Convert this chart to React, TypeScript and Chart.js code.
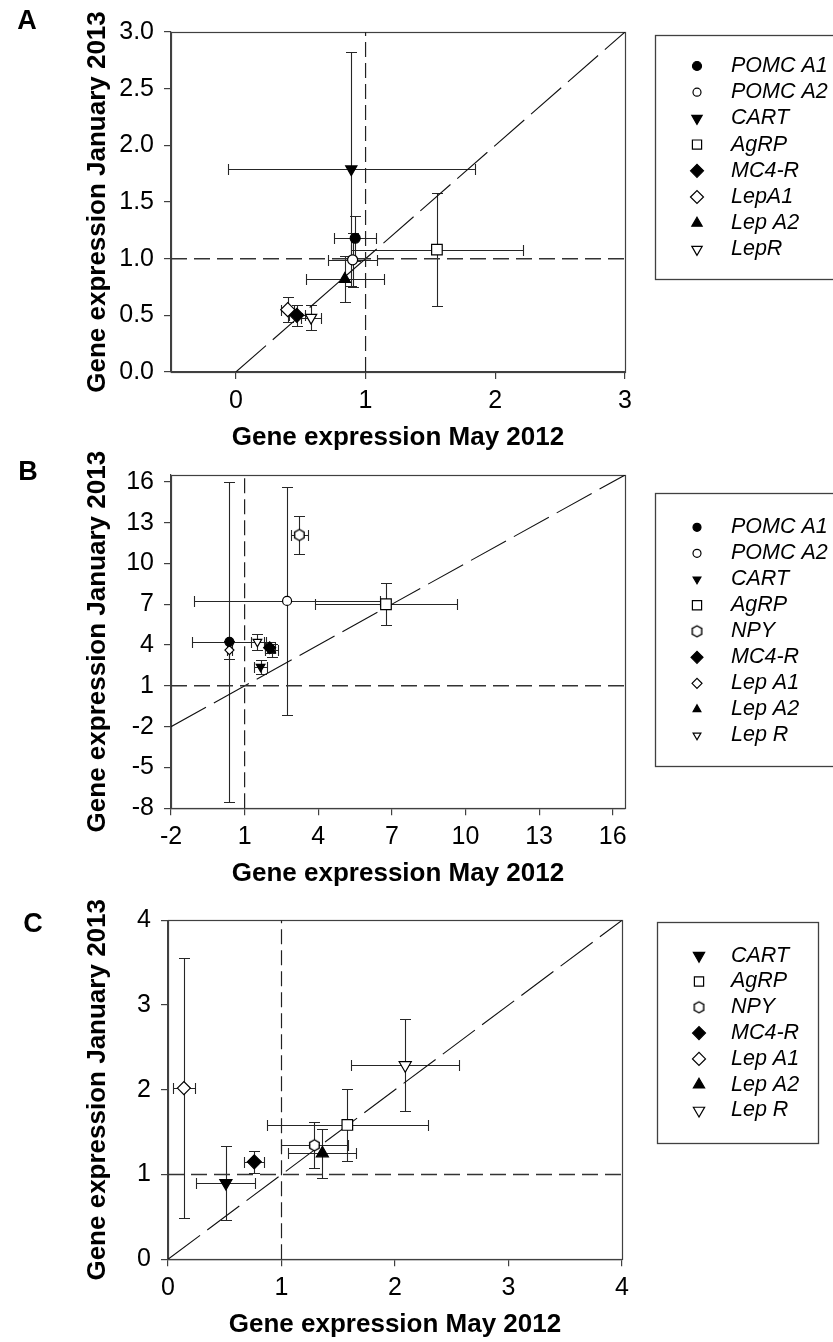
import React, { useEffect, useRef } from 'react';
import { Chart, registerables } from 'chart.js';
import { drawPoint } from 'chart.js/helpers';

Chart.register(...registerables);

const FONT = "'Liberation Sans', Arial, Helvetica, sans-serif";
Chart.defaults.font.family = FONT;
Chart.defaults.color = '#000';

// ---------------- shared text ----------------
const xTitle = 'Gene expression May 2012';
const yTitle = 'Gene expression January 2013';
const referenceLevel = 1;

// ---------------- Panel A ----------------
const genesA = ['POMC A1', 'POMC A2', 'CART', 'AgRP', 'MC4-R', 'LepA1', 'Lep A2', 'LepR'];
const mayA = [0.92, 0.9, 0.89, 1.55, 0.47, 0.4, 0.84, 0.58];
const mayErrA = [0.16, 0.19, 0.95, 0.66, 0.06, 0.05, 0.3, 0.075];
const janA = [1.18, 0.99, 1.79, 1.08, 0.5, 0.55, 0.82, 0.48];
const janErrA = [0.2, 0.24, 1.03, 0.5, 0.09, 0.11, 0.2, 0.11];
const xTicksA = [0, 1, 2, 3];
const yTicksA = [0, 0.5, 1, 1.5, 2, 2.5, 3];
const xRangeA = [-0.5, 3];
const yRangeA = [0, 3];

// ---------------- Panel B ----------------
const genesB = ['POMC A1', 'POMC A2', 'CART', 'AgRP', 'NPY', 'MC4-R', 'Lep A1', 'Lep A2', 'Lep R'];
const mayB = [0.38, 2.73, 1.65, 6.76, 3.23, 2.02, 0.38, 2.1, 1.52];
const mayErrB = [1.51, 3.78, 0.25, 2.88, 0.35, 0.2, 0.1, 0.25, 0.27];
const janB = [4.24, 7.24, 2.4, 7.0, 12.09, 3.8, 3.63, 3.6, 4.24];
const janErrB = [11.76, 8.4, 0.5, 1.56, 1.37, 0.4, 0.65, 0.5, 0.6];
const xTicksB = [-2, 1, 4, 7, 10, 13, 16];
const yTicksB = [-8, -5, -2, 1, 4, 7, 10, 13, 16];
const xRangeB = [-2, 16.5];
const yRangeB = [-8, 16.5];

// ---------------- Panel C ----------------
const genesC = ['CART', 'AgRP', 'NPY', 'MC4-R', 'Lep A1', 'Lep A2', 'Lep R'];
const mayC = [0.51, 1.58, 1.29, 0.76, 0.14, 1.36, 2.09];
const mayErrC = [0.26, 0.71, 0.295, 0.09, 0.1, 0.3, 0.475];
const janC = [0.9, 1.585, 1.345, 1.15, 2.02, 1.25, 2.29];
const janErrC = [0.44, 0.43, 0.27, 0.13, 1.53, 0.29, 0.54];
const xTicksC = [0, 1, 2, 3, 4];
const yTicksC = [0, 1, 2, 3, 4];
const xRangeC = [0, 4];
const yRangeC = [0, 4];

// ---------------- marker styles ----------------
type Mk = { shape: string; rot?: number; fill: boolean };
const MARKERS: Record<string, Mk> = {
  'POMC A1': { shape: 'circle', fill: true },
  'POMC A2': { shape: 'circle', fill: false },
  CART: { shape: 'triangle', rot: 180, fill: true },
  AgRP: { shape: 'rect', fill: false },
  NPY: { shape: 'hex', fill: false },
  'MC4-R': { shape: 'rectRot', fill: true },
  LepA1: { shape: 'rectRot', fill: false },
  'Lep A1': { shape: 'rectRot', fill: false },
  'Lep A2': { shape: 'triangle', fill: true },
  LepR: { shape: 'triangle', rot: 180, fill: false },
  'Lep R': { shape: 'triangle', rot: 180, fill: false },
};

const hexCache: Record<string, HTMLCanvasElement> = {};
function hexImage(r: number): HTMLCanvasElement {
  const k = String(r);
  if (hexCache[k]) return hexCache[k];
  const s = Math.ceil(2 * r + 4);
  const c = document.createElement('canvas');
  c.width = s;
  c.height = s;
  const g = c.getContext('2d')!;
  g.beginPath();
  for (let i = 0; i < 6; i++) {
    const a = Math.PI / 2 + (i * Math.PI) / 3;
    const px = s / 2 + r * Math.cos(a);
    const py = s / 2 + r * Math.sin(a);
    if (i === 0) g.moveTo(px, py);
    else g.lineTo(px, py);
  }
  g.closePath();
  g.fillStyle = '#fff';
  g.fill();
  g.strokeStyle = '#000';
  g.lineWidth = 1.4;
  g.stroke();
  hexCache[k] = c;
  return c;
}

// ---------------- plugins ----------------
const crisp = (v: number) => Math.round(v) + 0.5;

const framePlugin = {
  id: 'frame',
  beforeDatasetsDraw(chart: any) {
    const { ctx, chartArea: a } = chart;
    ctx.save();
    ctx.strokeStyle = '#404040';
    ctx.lineWidth = 1.2;
    ctx.strokeRect(crisp(a.left), crisp(a.top), Math.round(a.right - a.left), Math.round(a.bottom - a.top));
    ctx.restore();
  },
};

const errorBarPlugin = {
  id: 'errorBars',
  beforeDatasetsDraw(chart: any) {
    const { ctx, chartArea: a } = chart;
    const xs = chart.scales.x;
    const ys = chart.scales.y;
    const cap = 5.5;
    ctx.save();
    ctx.beginPath();
    ctx.rect(a.left, a.top, a.right - a.left, a.bottom - a.top);
    ctx.clip();
    ctx.strokeStyle = '#262626';
    ctx.lineWidth = 1.1;
    chart.data.datasets.forEach((ds: any) => {
      if (ds.isRef) return;
      ds.data.forEach((pt: any) => {
        const px = crisp(xs.getPixelForValue(pt.x));
        const py = crisp(ys.getPixelForValue(pt.y));
        const xl = crisp(xs.getPixelForValue(pt.x - pt.xErr));
        const xr = crisp(xs.getPixelForValue(pt.x + pt.xErr));
        const yt = crisp(ys.getPixelForValue(pt.y + pt.yErr));
        const yb = crisp(ys.getPixelForValue(pt.y - pt.yErr));
        ctx.beginPath();
        ctx.moveTo(xl, py);
        ctx.lineTo(xr, py);
        ctx.moveTo(xl, py - cap);
        ctx.lineTo(xl, py + cap);
        ctx.moveTo(xr, py - cap);
        ctx.lineTo(xr, py + cap);
        ctx.moveTo(px, yt);
        ctx.lineTo(px, yb);
        ctx.moveTo(px - cap, yt);
        ctx.lineTo(px + cap, yt);
        ctx.moveTo(px - cap, yb);
        ctx.lineTo(px + cap, yb);
        ctx.stroke();
      });
    });
    ctx.restore();
  },
};

const boxLegendPlugin = {
  id: 'boxLegend',
  afterDraw(chart: any, _args: any, o: any) {
    if (!o || o.left === undefined) return;
    const { ctx } = chart;
    ctx.save();
    ctx.strokeStyle = '#404040';
    ctx.lineWidth = 1.3;
    ctx.strokeRect(crisp(o.left), crisp(o.top), Math.round(o.right - o.left), Math.round(o.bottom - o.top));
    ctx.font = `italic ${o.fontSize}px ${FONT}`;
    ctx.textBaseline = 'middle';
    ctx.textAlign = 'left';
    let i = 0;
    chart.data.datasets.forEach((ds: any) => {
      if (ds.isRef) return;
      const y = o.firstY + i * o.step;
      ctx.fillStyle = ds.pointBackgroundColor;
      ctx.strokeStyle = '#000';
      ctx.lineWidth = 1.2;
      drawPoint(ctx, { pointStyle: ds.legendStyle, rotation: ds.pointRotation || 0, radius: ds.legendRadius, borderWidth: 1.2 } as any, o.markerX, y);
      ctx.fillStyle = '#000';
      ctx.fillText(ds.label, o.textX, y);
      i++;
    });
    ctx.restore();
  },
};

// ---------------- panel layout ----------------
type PanelCfg = {
  key: string;
  top: number;
  height: number;
  plot: { left: number; right: number; top: number; bottom: number };
  legend: { left: number; right: number; top: number; bottom: number; markerX: number; textX: number; firstY: number; step: number };
  letter: { x: number; y: number };
  genes: string[];
  may: number[];
  mayErr: number[];
  jan: number[];
  janErr: number[];
  xTicks: number[];
  yTicks: number[];
  xRange: number[];
  yRange: number[];
  decimals: number;
  radius: number[];
  legendRadius: number[];
};

const PANELS: PanelCfg[] = [
  {
    key: 'A', top: 0, height: 455,
    plot: { left: 171, right: 625, top: 32, bottom: 372 },
    legend: { left: 655, right: 845, top: 35, bottom: 279, markerX: 697, textX: 731, firstY: 66, step: 26.2 },
    letter: { x: 27, y: 20 },
    genes: genesA, may: mayA, mayErr: mayErrA, jan: janA, janErr: janErrA,
    xTicks: xTicksA, yTicks: yTicksA, xRange: xRangeA, yRange: yRangeA, decimals: 1,
    radius: [5, 5, 6.5, 7.5, 7, 7, 6.5, 6.5],
    legendRadius: [4.5, 4, 6, 6.5, 6.5, 6.5, 6, 6],
  },
  {
    key: 'B', top: 450, height: 440,
    plot: { left: 171, right: 625, top: 468.5, bottom: 808.3 },
    legend: { left: 655, right: 845, top: 493, bottom: 766, markerX: 697, textX: 731, firstY: 527.3, step: 26 },
    letter: { x: 28, y: 471 },
    genes: genesB, may: mayB, mayErr: mayErrB, jan: janB, janErr: janErrB,
    xTicks: xTicksB, yTicks: yTicksB, xRange: xRangeB, yRange: yRangeB, decimals: 0,
    radius: [4.5, 4.5, 5, 7.5, 5.5, 6, 4.5, 4.5, 5],
    legendRadius: [4, 4, 4.5, 6.5, 5.5, 6, 5, 4.5, 4.5],
  },
  {
    key: 'C', top: 890, height: 452,
    plot: { left: 168, right: 622, top: 920.3, bottom: 1259.3 },
    legend: { left: 657, right: 818, top: 922, bottom: 1143, markerX: 699, textX: 731, firstY: 955.7, step: 25.8 },
    letter: { x: 33, y: 923 },
    genes: genesC, may: mayC, mayErr: mayErrC, jan: janC, janErr: janErrC,
    xTicks: xTicksC, yTicks: yTicksC, xRange: xRangeC, yRange: yRangeC, decimals: 0,
    radius: [7, 7.5, 5.5, 7, 6.5, 7, 7],
    legendRadius: [6.5, 6.5, 5.5, 6.5, 6.5, 6.5, 6.5],
  },
];

const X_AXIS_H = 82;
const TICK_FONT = 25;
const TITLE_FONT = 26;

function buildConfig(p: PanelCfg): any {
  const pl = p.plot;
  const rel = (v: number) => v - p.top;

  const markerSets = p.genes.map((g, i) => {
    const m = MARKERS[g];
    const r = p.radius[i];
    const lr = p.legendRadius[i];
    const fillCol = m.fill ? '#000' : '#fff';
    return {
      label: g,
      data: [{ x: p.may[i], y: p.jan[i], xErr: p.mayErr[i], yErr: p.janErr[i] }],
      pointStyle: m.shape === 'hex' ? hexImage(r) : m.shape,
      legendStyle: m.shape === 'hex' ? hexImage(lr) : m.shape,
      pointRotation: m.rot || 0,
      pointRadius: r,
      pointHoverRadius: r,
      pointBackgroundColor: fillCol,
      backgroundColor: fillCol,
      pointBorderColor: '#000',
      borderColor: '#000',
      pointBorderWidth: 1.2,
      legendRadius: lr,
      showLine: false,
    };
  });

  const [x0, x1] = p.xRange;
  const [y0, y1] = p.yRange;
  const lo = Math.max(x0, y0);
  const hi = Math.min(x1, y1);
  const refSets = [
    { data: [{ x: x0, y: referenceLevel }, { x: x1, y: referenceLevel }], borderDash: [16, 7], borderWidth: 1.5, borderColor: '#333' },
    { data: [{ x: referenceLevel, y: y0 }, { x: referenceLevel, y: y1 }], borderDash: [15, 6], borderWidth: 1.2, borderColor: '#222' },
    { data: [{ x: lo, y: lo }, { x: hi, y: hi }], borderDash: [40, 9], borderWidth: 1.1, borderColor: '#111' },
  ].map((d) => ({ ...d, label: '', isRef: true, showLine: true, pointRadius: 0, pointHoverRadius: 0, fill: false }));

  const tickFmt = (v: any) => Number(v).toFixed(p.decimals);

  return {
    type: 'scatter',
    data: { datasets: [...markerSets, ...refSets] },
    options: {
      responsive: false,
      maintainAspectRatio: false,
      animation: false,
      devicePixelRatio: 1,
      events: [],
      layout: {
        padding: {
          left: 0,
          right: 833 - pl.right,
          top: rel(pl.top),
          bottom: p.height - rel(pl.bottom) - X_AXIS_H,
        },
      },
      plugins: {
        legend: { display: false },
        tooltip: { enabled: false },
        boxLegend: {
          left: p.legend.left, right: p.legend.right,
          top: rel(p.legend.top), bottom: rel(p.legend.bottom),
          markerX: p.legend.markerX, textX: p.legend.textX,
          firstY: rel(p.legend.firstY), step: p.legend.step, fontSize: 21.5,
        },
      },
      scales: {
        x: {
          type: 'linear',
          position: 'bottom',
          min: x0,
          max: x1,
          afterBuildTicks: (s: any) => { s.ticks = p.xTicks.map((v) => ({ value: v })); },
          afterFit: (s: any) => { s.height = X_AXIS_H; },
          ticks: { autoSkip: false, maxRotation: 0, padding: 7, font: { size: TICK_FONT }, color: '#000', callback: (v: any) => String(v) },
          grid: { drawOnChartArea: false, drawTicks: true, tickLength: 7, color: '#404040', lineWidth: 1.2 },
          border: { display: true, color: '#404040', width: 1.2 },
          title: { display: true, text: xTitle, font: { size: TITLE_FONT, weight: 'bold', lineHeight: 1.2 }, color: '#000', padding: { top: 0, bottom: 1 } },
        },
        y: {
          type: 'linear',
          position: 'left',
          min: y0,
          max: y1,
          afterBuildTicks: (s: any) => { s.ticks = p.yTicks.map((v) => ({ value: v })); },
          afterFit: (s: any) => { s.width = pl.left; },
          ticks: { autoSkip: false, padding: 10, font: { size: TICK_FONT }, color: '#000', callback: tickFmt },
          grid: { drawOnChartArea: false, drawTicks: true, tickLength: 7, color: '#404040', lineWidth: 1.2 },
          border: { display: true, color: '#404040', width: 1.2 },
          title: { display: true, text: yTitle, font: { size: TITLE_FONT, weight: 'bold', lineHeight: 1.2 }, color: '#000', padding: { top: 82, bottom: 0 } },
        },
      },
    },
    plugins: [framePlugin, errorBarPlugin, boxLegendPlugin],
  };
}

function Panel({ p }: { p: PanelCfg }) {
  const ref = useRef<HTMLCanvasElement>(null);
  useEffect(() => {
    if (!ref.current) return;
    const chart = new Chart(ref.current, buildConfig(p));
    return () => chart.destroy();
  }, [p]);
  return (
    <>
      <canvas
        ref={ref}
        width={833}
        height={p.height}
        style={{ position: 'absolute', left: 0, top: p.top, width: 833, height: p.height, display: 'block' }}
      />
      <div
        style={{
          position: 'absolute',
          left: p.letter.x - 15,
          top: p.letter.y - 16,
          width: 30,
          textAlign: 'center',
          fontFamily: FONT,
          fontWeight: 'bold',
          fontSize: 27,
          lineHeight: '32px',
          color: '#000',
        }}
      >
        {p.key}
      </div>
    </>
  );
}

export default function App() {
  return (
    <div style={{ position: 'absolute', left: 0, top: 0, width: 833, height: 1342, background: '#fff', overflow: 'hidden' }}>
      {PANELS.map((p) => (
        <Panel key={p.key} p={p} />
      ))}
    </div>
  );
}
